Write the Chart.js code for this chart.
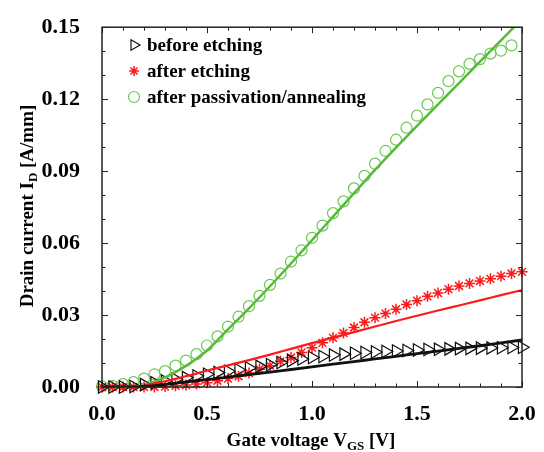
<!DOCTYPE html>
<html>
<head>
<meta charset="utf-8">
<script src="https://cdn.jsdelivr.net/npm/chart.js@4.4.0/dist/chart.umd.min.js"></script>
<style>
  html, body { margin: 0; padding: 0; background: #fff; }
  #wrap { width: 544px; height: 452px; position: relative; }
</style>
</head>
<body>
<div id="wrap"><canvas id="idChart"></canvas></div>
<script>
// measured points, gate voltage (V)
const vgsPoints = [0.00, 0.05, 0.10, 0.15, 0.20, 0.25, 0.30, 0.35, 0.40, 0.45,
                   0.50, 0.55, 0.60, 0.65, 0.70, 0.75, 0.80, 0.85, 0.90, 0.95,
                   1.00, 1.05, 1.10, 1.15, 1.20, 1.25, 1.30, 1.35, 1.40, 1.45,
                   1.50, 1.55, 1.60, 1.65, 1.70, 1.75, 1.80, 1.85, 1.90, 1.95, 2.00];

// drain current (A/mm)
const beforeEtching = [0.0000, 0.0000, 0.0000, 0.0002, 0.0010, 0.0018, 0.0025, 0.0032, 0.0039, 0.0046,
                       0.0053, 0.0060, 0.0066, 0.0072, 0.0079, 0.0086, 0.0093, 0.0102, 0.0110, 0.0117,
                       0.0123, 0.0127, 0.0133, 0.0137, 0.0141, 0.0144, 0.0146, 0.0148, 0.0150, 0.0152,
                       0.0154, 0.0156, 0.0157, 0.0159, 0.0160, 0.0161, 0.0162, 0.0163, 0.0164, 0.0165, 0.0166];

const afterEtching = [0.0000, 0.0000, 0.0000, 0.0000, 0.0000, 0.0000, 0.0002, 0.0005, 0.0008, 0.0012,
                      0.0018, 0.0026, 0.0035, 0.0045, 0.0058, 0.0074, 0.0089, 0.0107, 0.0123, 0.0144,
                      0.0164, 0.0184, 0.0205, 0.0225, 0.0248, 0.0270, 0.0289, 0.0306, 0.0324, 0.0344,
                      0.0360, 0.0378, 0.0392, 0.0408, 0.0421, 0.0432, 0.0442, 0.0451, 0.0462, 0.0473, 0.0480];

// last point (2.0 V) was not measured for this one
const afterPassivation = [0.0003, 0.0005, 0.0012, 0.0020, 0.0035, 0.0053, 0.0066, 0.0089, 0.0110, 0.0137,
                          0.0173, 0.0211, 0.0252, 0.0293, 0.0337, 0.0380, 0.0426, 0.0473, 0.0523, 0.0570,
                          0.0622, 0.0673, 0.0725, 0.0774, 0.0828, 0.0880, 0.0931, 0.0984, 0.1031, 0.1081,
                          0.1131, 0.1178, 0.1226, 0.1275, 0.1316, 0.1347, 0.1367, 0.1390, 0.1402, 0.1424];

// simulated curves
const vgsFit = [0.00, 0.05, 0.10, 0.15, 0.20, 0.25, 0.30, 0.35, 0.40, 0.45, 0.50,
                0.60, 0.70, 0.80, 0.90, 1.00, 1.10, 1.20, 1.30, 1.40, 1.50,
                1.60, 1.70, 1.80, 1.90, 2.00];
const fitBefore = [0, 0, 0, 0, 0.0002, 0.0006, 0.0011, 0.0016, 0.0021, 0.0026, 0.0031,
                   0.0041, 0.0052, 0.0062, 0.0073, 0.0084, 0.0095, 0.0106, 0.0117, 0.0128, 0.0139,
                   0.0150, 0.0161, 0.0172, 0.0184, 0.0196];
const fitAfter = [0, 0, 0, 0, 0.0006, 0.0015, 0.0024, 0.0034, 0.0045, 0.0056, 0.0068,
                  0.0090, 0.0112, 0.0135, 0.0159, 0.0183, 0.0206, 0.0229, 0.0252, 0.0275, 0.0297,
                  0.0319, 0.0340, 0.0361, 0.0383, 0.0404];
const fitPassivation = [0, 0, 0, 0, 0.0008, 0.0022, 0.0040, 0.0062, 0.0088, 0.0118, 0.0152,
                        0.0240, 0.0328, 0.0420, 0.0515, 0.0612, 0.0710, 0.0808, 0.0905, 0.0998, 0.1089,
                        0.1178, 0.1267, 0.1356, 0.1445, 0.1534];

const xTickValues = [0, 0.5, 1.0, 1.5, 2.0];
const xTickLabels = ['0.0', '0.5', '1.0', '1.5', '2.0'];
const yTickValues = [0, 0.03, 0.06, 0.09, 0.12, 0.15];
const yTickLabels = ['0.00', '0.03', '0.06', '0.09', '0.12', '0.15'];

const legendNames = ['before etching', 'after etching', 'after passivation/annealing'];

const BLACK = '#111111';
const RED   = '#ff1a1a';
const GREEN = '#56bb38';
const GREEN_PT = '#6cc850';
const FONT = "'Liberation Serif', 'Times New Roman', serif";

function pairs(xs, ys) {
  return ys.map((y, i) => ({ x: xs[i], y: y }));
}

// inward ticks on all four sides + frame
const frameTicks = {
  id: 'frameTicks',
  afterDraw(chart) {
    const ctx = chart.ctx;
    const a = chart.chartArea;
    const xs = chart.scales.x, ys = chart.scales.y;
    ctx.save();
    ctx.strokeStyle = '#222';
    ctx.lineWidth = 1;
    for (let i = 0; i <= 20; i++) {
      const px = Math.round(xs.getPixelForValue(i / 10)) + 0.5;
      const len = i % 5 === 0 ? 6 : 3.5;
      ctx.beginPath();
      ctx.moveTo(px, a.bottom); ctx.lineTo(px, a.bottom - len);
      ctx.moveTo(px, a.top);    ctx.lineTo(px, a.top + len);
      ctx.stroke();
    }
    for (let i = 0; i <= 15; i++) {
      const py = Math.round(ys.getPixelForValue(i / 100)) + 0.5;
      const len = i % 3 === 0 ? 6 : 3.5;
      ctx.beginPath();
      ctx.moveTo(a.left, py);  ctx.lineTo(a.left + len, py);
      ctx.moveTo(a.right, py); ctx.lineTo(a.right - len, py);
      ctx.stroke();
    }
    ctx.lineWidth = 1.5;
    ctx.strokeRect(a.left, a.top, a.right - a.left, a.bottom - a.top);
    ctx.restore();
  }
};

// text with a subscript part, centered on x
function drawParts(ctx, parts, x, y) {
  let total = 0;
  parts.forEach(p => {
    ctx.font = 'bold ' + p.size + 'px ' + FONT;
    p.w = ctx.measureText(p.t).width;
    total += p.w;
  });
  let cx = x - total / 2;
  parts.forEach(p => {
    ctx.font = 'bold ' + p.size + 'px ' + FONT;
    ctx.fillText(p.t, cx, y + (p.dy || 0));
    cx += p.w;
  });
}

const titlesAndLegend = {
  id: 'titlesAndLegend',
  afterDraw(chart) {
    const ctx = chart.ctx;
    ctx.save();
    ctx.fillStyle = '#000';
    ctx.textAlign = 'left';
    ctx.textBaseline = 'alphabetic';
    drawParts(ctx, [
      { t: 'Gate voltage V', size: 19 },
      { t: 'GS', size: 13, dy: 4 },
      { t: ' [V]', size: 19 }
    ], 311, 446);

    ctx.save();
    ctx.translate(33, 206);
    ctx.rotate(-Math.PI / 2);
    drawParts(ctx, [
      { t: 'Drain current I', size: 19 },
      { t: 'D', size: 13, dy: 4 },
      { t: ' [A/mm]', size: 19 }
    ], 0, 0);
    ctx.restore();

    // legend, inside the plot at top-left
    const marks = chart.data.datasets.slice(0, 3);
    const rows = [45, 71, 97];
    const sizes = [6, 5, 5.5];
    marks.forEach((ds, i) => {
      ctx.strokeStyle = ds.borderColor;
      ctx.fillStyle = 'rgba(0,0,0,0)';
      ctx.lineWidth = ds.borderWidth;
      Chart.helpers.drawPoint(ctx, {
        pointStyle: ds.pointStyle,
        rotation: ds.rotation || 0,
        radius: sizes[i],
        borderWidth: ds.borderWidth
      }, 134, rows[i]);
      ctx.fillStyle = '#000';
      ctx.font = 'bold 19px ' + FONT;
      ctx.fillText(legendNames[i], 147, rows[i] + 6);
    });
    ctx.restore();
  }
};

new Chart(document.getElementById('idChart'), {
  type: 'scatter',
  data: {
    datasets: [
      {
        label: legendNames[0],
        data: pairs(vgsPoints, beforeEtching),
        showLine: false,
        pointStyle: 'triangle',
        rotation: 90,
        pointRadius: 7.2,
        borderColor: BLACK,
        backgroundColor: 'rgba(0,0,0,0)',
        borderWidth: 1.2,
        clip: 8,
        order: 2
      },
      {
        label: legendNames[1],
        data: pairs(vgsPoints, afterEtching),
        showLine: false,
        pointStyle: 'star',
        pointRadius: 5.5,
        borderColor: RED,
        backgroundColor: RED,
        borderWidth: 1.5,
        clip: 8,
        order: 2
      },
      {
        label: legendNames[2],
        data: pairs(vgsPoints, afterPassivation),
        showLine: false,
        pointStyle: 'circle',
        pointRadius: 5.5,
        borderColor: GREEN_PT,
        backgroundColor: 'rgba(0,0,0,0)',
        borderWidth: 1.2,
        clip: 8,
        order: 2
      },
      {
        label: 'fit before',
        data: pairs(vgsFit, fitBefore),
        showLine: true,
        pointRadius: 0,
        borderColor: BLACK,
        borderWidth: 2.8,
        cubicInterpolationMode: 'monotone',
        order: 1
      },
      {
        label: 'fit after',
        data: pairs(vgsFit, fitAfter),
        showLine: true,
        pointRadius: 0,
        borderColor: RED,
        borderWidth: 2.2,
        cubicInterpolationMode: 'monotone',
        order: 1
      },
      {
        label: 'fit passivation',
        data: pairs(vgsFit, fitPassivation),
        showLine: true,
        pointRadius: 0,
        borderColor: GREEN,
        borderWidth: 2.5,
        cubicInterpolationMode: 'monotone',
        order: 1
      }
    ]
  },
  options: {
    responsive: true,
    maintainAspectRatio: false,
    animation: false,
    layout: { padding: { top: 18, right: 22, left: 0, bottom: 0 } },
    plugins: {
      legend: { display: false },
      tooltip: { enabled: false }
    },
    scales: {
      x: {
        type: 'linear',
        min: 0,
        max: 2,
        grid: { display: false },
        border: { display: false },
        afterBuildTicks: s => { s.ticks = xTickValues.map(v => ({ value: v })); },
        afterFit: s => { s.height = 65; },
        ticks: {
          padding: 6,
          color: '#000',
          font: { family: FONT, size: 22, weight: 'bold' },
          callback: (v, i) => xTickLabels[i]
        }
      },
      y: {
        type: 'linear',
        min: 0,
        max: 0.15,
        grid: { display: false },
        border: { display: false },
        afterBuildTicks: s => { s.ticks = yTickValues.map(v => ({ value: v })); },
        afterFit: s => { s.width = 102; },
        ticks: {
          padding: 14,
          color: '#000',
          font: { family: FONT, size: 22, weight: 'bold' },
          callback: (v, i) => yTickLabels[i]
        }
      }
    }
  },
  plugins: [frameTicks, titlesAndLegend]
});
</script>
</body>
</html>
